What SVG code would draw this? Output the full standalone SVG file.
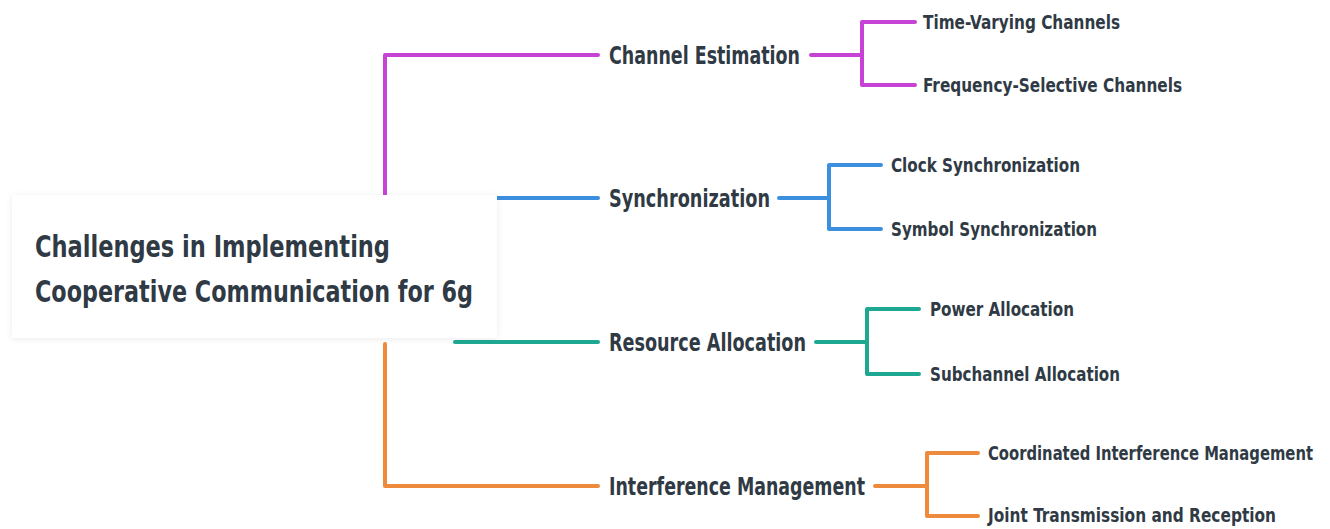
<svg xmlns="http://www.w3.org/2000/svg" width="1330" height="529" viewBox="0 0 1330 529">
  <style>
    text { font-family: "DejaVu Sans Condensed", "DejaVu Sans", "Liberation Sans", sans-serif; font-stretch: condensed; font-weight: bold; fill: #2f3a45; }
    .root { font-size: 31px; }
    .main { font-size: 25px; }
    .leaf { font-size: 20px; }
    .link { fill: none; stroke-width: 4; stroke-linecap: round; stroke-linejoin: round; }
    .mag { stroke: #c743d6; }
    .blu { stroke: #3b8fde; }
    .tea { stroke: #1fa891; }
    .ora { stroke: #ee8a3c; }
  </style>
  <defs>
    <filter id="soft" x="-10%" y="-20%" width="120%" height="140%">
      <feDropShadow dx="0" dy="1" stdDeviation="3" flood-color="#000" flood-opacity="0.08"/>
    </filter>
  </defs>
  <rect width="1330" height="529" fill="#ffffff"/>

  <!-- connectors -->
  <g id="connectors">
    <path class="link mag" d="M385 195 V55 H598"/>
    <path class="link mag" d="M811 55 H862 M915 22 H862 V85 H915"/>
    <path class="link blu" d="M496 198 H598"/>
    <path class="link blu" d="M779 198 H829 M881 165 H829 V229 H881"/>
    <path class="link tea" d="M455 342 H598"/>
    <path class="link tea" d="M816 342 H867 M919 309 H867 V374 H919"/>
    <path class="link ora" d="M385 344 V486 H598"/>
    <path class="link ora" d="M875 486 H927 M978 453 H927 V516 H978"/>
  </g>

  <!-- central topic -->
  <g id="root">
    <rect x="12" y="195" width="485" height="143" fill="#ffffff" filter="url(#soft)"/>
    <text class="root" x="35" y="257" textLength="355" lengthAdjust="spacingAndGlyphs">Challenges in Implementing</text>
    <text class="root" x="35" y="302" textLength="438" lengthAdjust="spacingAndGlyphs">Cooperative Communication for 6g</text>
  </g>

  <!-- main branches -->
  <g id="channel-estimation"><text class="main" x="609" y="64" textLength="191" lengthAdjust="spacingAndGlyphs">Channel Estimation</text></g>
  <g id="synchronization"><text class="main" x="609" y="207" textLength="161" lengthAdjust="spacingAndGlyphs">Synchronization</text></g>
  <g id="resource-allocation"><text class="main" x="609" y="351" textLength="197" lengthAdjust="spacingAndGlyphs">Resource Allocation</text></g>
  <g id="interference-management"><text class="main" x="609" y="495" textLength="256" lengthAdjust="spacingAndGlyphs">Interference Management</text></g>

  <!-- sub-topics -->
  <g id="time-varying"><text class="leaf" x="923" y="29" textLength="197" lengthAdjust="spacingAndGlyphs">Time-Varying Channels</text></g>
  <g id="frequency-selective"><text class="leaf" x="923" y="92" textLength="259" lengthAdjust="spacingAndGlyphs">Frequency-Selective Channels</text></g>
  <g id="clock-sync"><text class="leaf" x="891" y="172" textLength="189" lengthAdjust="spacingAndGlyphs">Clock Synchronization</text></g>
  <g id="symbol-sync"><text class="leaf" x="891" y="236" textLength="206" lengthAdjust="spacingAndGlyphs">Symbol Synchronization</text></g>
  <g id="power-allocation"><text class="leaf" x="930" y="316" textLength="144" lengthAdjust="spacingAndGlyphs">Power Allocation</text></g>
  <g id="subchannel-allocation"><text class="leaf" x="930" y="381" textLength="190" lengthAdjust="spacingAndGlyphs">Subchannel Allocation</text></g>
  <g id="coordinated-interference"><text class="leaf" x="988" y="460" textLength="325" lengthAdjust="spacingAndGlyphs">Coordinated Interference Management</text></g>
  <g id="joint-transmission"><text class="leaf" x="988" y="522" textLength="288" lengthAdjust="spacingAndGlyphs">Joint Transmission and Reception</text></g>
</svg>
